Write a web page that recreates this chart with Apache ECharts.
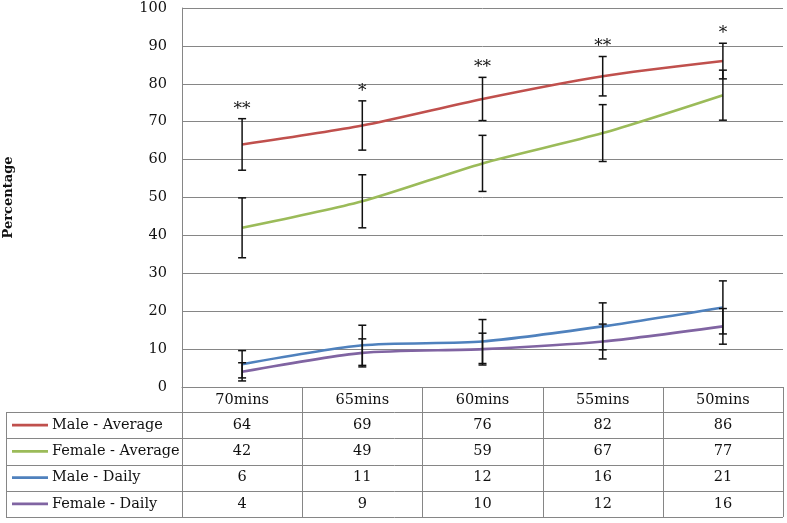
<!DOCTYPE html>
<html>
<head>
<meta charset="utf-8">
<script src="https://cdn.jsdelivr.net/npm/echarts@6/dist/echarts.min.js"></script>
<style>
html,body{margin:0;padding:0;background:#fff;}
#c{width:787px;height:523px;}
</style>
</head>
<body>
<div id="c"></div>
<script>
const categories = ['70mins', '65mins', '60mins', '55mins', '50mins'];
const seriesNames = ['Male - Average', 'Female - Average', 'Male - Daily', 'Female - Daily'];
const maleAverage = [64, 69, 76, 82, 86];
const femaleAverage = [42, 49, 59, 67, 77];
const maleDaily = [6, 11, 12, 16, 21];
const femaleDaily = [4, 9, 10, 12, 16];
const maleAverageErr = [6.8, 6.5, 5.7, 5.2, 4.7];
const femaleAverageErr = [7.9, 7.0, 7.4, 7.5, 6.6];
const maleDailyErr = [3.6, 5.3, 5.8, 6.2, 7.0];
const femaleDailyErr = [2.4, 3.7, 4.2, 4.6, 4.7];
const significance = ['**', '*', '**', '**', '*'];
const yAxisMin = 0, yAxisMax = 100, yAxisStep = 10;

const values = [maleAverage, femaleAverage, maleDaily, femaleDaily];
const errors = [maleAverageErr, femaleAverageErr, maleDailyErr, femaleDailyErr];
const colors = ['#C0504D', '#9BBB59', '#4F81BD', '#8064A2'];
const FONT = 'DejaVu Serif';
const GRID = {left: 182, right: 4, top: 8, bottom: 136, outerBoundsMode: 'none', containLabel: false};
const W = 787, H = 523;
const gridColor = '#868686';

const chart = echarts.init(document.getElementById('c'), null, {renderer: 'canvas'});

function errRender(params, api) {
  const x = api.value(0), v = api.value(1), e = api.value(2);
  const top = api.coord([x, v + e]);
  const bot = api.coord([x, v - e]);
  const hw = 4;
  const st = {stroke: '#111', lineWidth: 1.5};
  return {
    type: 'group',
    children: [
      {type: 'line', shape: {x1: top[0], y1: top[1], x2: bot[0], y2: bot[1]}, style: st},
      {type: 'line', shape: {x1: top[0] - hw, y1: top[1], x2: top[0] + hw, y2: top[1]}, style: st},
      {type: 'line', shape: {x1: bot[0] - hw, y1: bot[1], x2: bot[0] + hw, y2: bot[1]}, style: st}
    ]
  };
}

function sigRender(params, api) {
  const x = api.value(0), t = api.value(1);
  const p = api.coord([x, t]);
  return {
    type: 'text',
    x: p[0], y: p[1] - 1,
    style: {
      text: significance[params.dataIndex],
      textAlign: 'center', textVerticalAlign: 'bottom',
      font: '17px "' + FONT + '"', fill: '#111'
    }
  };
}

const series = [];
seriesNames.forEach((name, k) => {
  series.push({
    name: name, type: 'line', data: values[k], smooth: 0.25,
    symbol: 'none', lineStyle: {color: colors[k], width: 2.6}, itemStyle: {color: colors[k]},
    z: 2, animation: false
  });
});
seriesNames.forEach((name, k) => {
  series.push({
    type: 'custom', renderItem: errRender, z: 5, animation: false, silent: true,
    data: values[k].map((v, i) => [i, v, errors[k][i]])
  });
});
series.push({
  type: 'custom', renderItem: sigRender, z: 6, animation: false, silent: true,
  data: maleAverage.map((v, i) => [i, v + maleAverageErr[i]])
});

chart.setOption({
  animation: false,
  backgroundColor: '#fff',
  grid: GRID,
  xAxis: {
    type: 'category', data: categories, boundaryGap: true,
    axisLine: {show: true, lineStyle: {color: gridColor, width: 1}},
    axisTick: {show: false},
    axisLabel: {margin: 6, fontFamily: FONT, fontSize: 14.5, color: '#111'}
  },
  yAxis: {
    type: 'value', min: yAxisMin, max: yAxisMax, interval: yAxisStep,
    name: 'Percentage', nameLocation: 'middle', nameGap: 167, nameRotate: 90,
    nameTextStyle: {fontFamily: FONT, fontWeight: 'bold', fontSize: 13, color: '#111'},
    axisLine: {show: true, lineStyle: {color: gridColor, width: 1}},
    axisTick: {show: false},
    axisLabel: {margin: 15, fontFamily: FONT, fontSize: 14.5, color: '#111'},
    splitLine: {show: true, lineStyle: {color: gridColor, width: 1}}
  },
  series: series
});

// Data table under the plot
const left = GRID.left, right = W - GRID.right, axisY = H - GRID.bottom;
const tableLeft = 6;
const headerBottom = 412, tableBottom = 517;
const rowH = (tableBottom - headerBottom) / seriesNames.length;
const band = (right - left) / categories.length;
const lineStyle = {stroke: gridColor, lineWidth: 1};
const g = [];
function hline(x1, x2, y) { g.push({type: 'line', shape: {x1: x1, y1: y, x2: x2, y2: y}, style: lineStyle, silent: true}); }
function vline(x, y1, y2) { g.push({type: 'line', shape: {x1: x, y1: y1, x2: x, y2: y2}, style: lineStyle, silent: true}); }
for (let r = 0; r <= seriesNames.length; r++) hline(tableLeft, right, Math.round(headerBottom + r * rowH) + 0.5);
vline(tableLeft + 0.5, headerBottom, tableBottom);
for (let i = 0; i <= categories.length; i++) {
  const xb = Math.round(left + i * band) + 0.5;
  vline(xb, axisY, tableBottom);
}
seriesNames.forEach((name, k) => {
  const cy = headerBottom + (k + 0.5) * rowH;
  g.push({type: 'line', shape: {x1: 12, y1: cy, x2: 48, y2: cy}, style: {stroke: colors[k], lineWidth: 2.6}, silent: true});
  g.push({type: 'text', x: 52, y: cy, style: {text: name, textAlign: 'left', textVerticalAlign: 'middle', font: '14.5px "' + FONT + '"', fill: '#111'}, silent: true});
  values[k].forEach((v, i) => {
    const cx = chart.convertToPixel({xAxisIndex: 0}, categories[i]);
    g.push({type: 'text', x: cx, y: cy, style: {text: String(v), textAlign: 'center', textVerticalAlign: 'middle', font: '14.5px "' + FONT + '"', fill: '#111'}, silent: true});
  });
});
chart.setOption({graphic: {elements: g}});
</script>
</body>
</html>
